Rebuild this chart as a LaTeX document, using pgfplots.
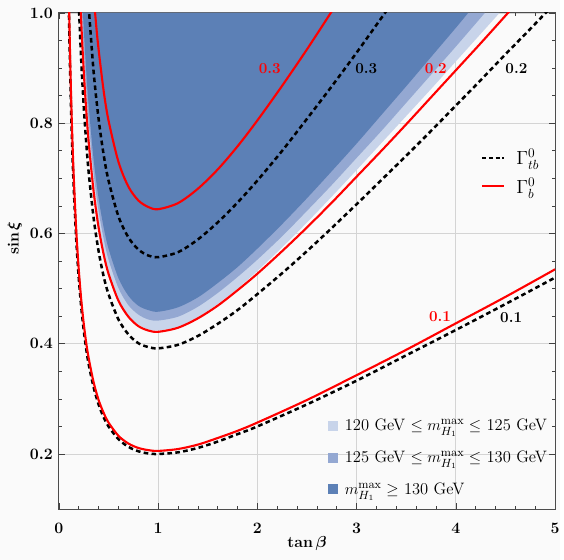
\documentclass[border=0pt]{standalone}
\usepackage{amsmath,amssymb,bm}
\usepackage{pgfplots}
\pgfplotsset{compat=1.18}
\definecolor{bgcol}{RGB}{250,250,250}
\definecolor{bandlight}{RGB}{200,212,234}
\definecolor{bandmid}{RGB}{148,168,210}
\definecolor{banddark}{RGB}{92,128,182}
\definecolor{gridcol}{RGB}{212,212,212}

\begin{document}
\begin{tikzpicture}
% page = 564 px at 0.75pt/px
\fill[bgcol] (-44.5pt,-38.25pt) rectangle (378.5pt,384.75pt);
\begin{axis}[
  at={(0,0)}, anchor=south west,
  scale only axis, width=375pt, height=375pt,
  xmin=0, xmax=5, ymin=0.1, ymax=1.0,
  xtick={0,1,2,3,4,5},
  ytick={0.2,0.4,0.6,0.8,1.0},
  yticklabel style={/pgf/number format/fixed,/pgf/number format/fixed zerofill,
    /pgf/number format/precision=1, xshift=-1pt},
  minor x tick num=4, minor y tick num=3,
  tick align=inside,
  major tick length=4.5pt, minor tick length=2.5pt,
  tick style={black!75, line width=0.5pt},
  axis line style={black!70, line width=0.8pt},
  ticklabel style={font=\fontsize{11.5}{13}\selectfont\bfseries\boldmath},
  xticklabel style={yshift=-7pt},
  grid=major,
  major grid style={gridcol, line width=0.6pt},
  xlabel={\textbf{tan}\,$\bm{\beta}$},
  ylabel={\textbf{sin}\,$\bm{\xi}$},
  label style={font=\fontsize{12}{14}\selectfont},
  xlabel style={at={(axis description cs:0.5,0)}, anchor=center, yshift=-26pt},
  ylabel style={at={(axis description cs:-0.089,0.546)}, anchor=center},
  legend style={at={(0.533,0.193)}, anchor=north west, draw=none, fill=none,
    font=\fontsize{12.5}{14}\selectfont, row sep=9.75pt},
  legend cell align=left,
]
% --- mass regions ---
\addplot[fill=bandlight, draw=none, smooth,
  legend image code/.code={\fill[bandlight] (0pt,-3.75pt) rectangle (7.5pt,3.75pt); \path (11pt,0pt);}]
coordinates {
 (0.2225,1.0) (0.225,0.990) (0.25,0.901) (0.275,0.829) (0.3,0.770) (0.35,0.680)
 (0.4,0.615) (0.45,0.567) (0.5,0.530) (0.6,0.481) (0.7,0.451) (0.8,0.435) (0.9,0.426)
 (1.0,0.424) (1.2,0.431) (1.4,0.448) (1.6,0.472) (1.8,0.500) (2.0,0.532) (2.25,0.575)
 (2.5,0.620) (2.75,0.667) (3.0,0.715) (3.25,0.764) (3.5,0.813) (3.75,0.862)
 (4.0,0.912) (4.25,0.962) (4.44,1.0)
} -- cycle;
\addlegendentry{120 GeV $\leq m_{H_1}^{\max} \leq$ 125 GeV}
\addplot[fill=bandmid, draw=none, smooth,
  legend image code/.code={\fill[bandmid] (0pt,-3.75pt) rectangle (7.5pt,3.75pt); \path (11pt,0pt);}]
coordinates {
 (0.233,1.0) (0.25,0.939) (0.275,0.864) (0.3,0.803) (0.35,0.709) (0.4,0.641)
 (0.45,0.591) (0.5,0.5525) (0.6,0.501) (0.7,0.470) (0.8,0.453) (0.9,0.444) (1.0,0.442)
 (1.2,0.449) (1.4,0.467) (1.6,0.492) (1.8,0.521) (2.0,0.5525) (2.25,0.595) (2.5,0.641)
 (2.75,0.688) (3.0,0.737) (3.25,0.786) (3.5,0.837) (3.75,0.888) (4.0,0.939) (4.292,1.0)
} -- cycle;
\addlegendentry{125 GeV $\leq m_{H_1}^{\max} \leq$ 130 GeV}
\addplot[fill=banddark, draw=none, smooth,
  legend image code/.code={\fill[banddark] (0pt,-3.75pt) rectangle (7.5pt,3.75pt); \path (11pt,0pt);}]
coordinates {
 (0.2425,1.0) (0.25,0.973) (0.275,0.896) (0.3,0.832) (0.35,0.734) (0.4,0.664)
 (0.45,0.612) (0.5,0.5725) (0.6,0.519) (0.7,0.487) (0.8,0.469) (0.9,0.461) (1.0,0.458)
 (1.2,0.466) (1.4,0.484) (1.6,0.510) (1.8,0.539) (2.0,0.5725) (2.25,0.617) (2.5,0.664)
 (2.75,0.713) (3.0,0.763) (3.25,0.815) (3.5,0.867) (3.75,0.920) (4.0,0.973) (4.124,1.0)
} -- cycle;
\addlegendentry{$m_{H_1}^{\max} \geq$ 130 GeV}
% --- Gamma_tb^0 (black dashed) ---
\addplot[forget plot, black, smooth, line width=1.9pt, dash pattern=on 3.5pt off 2.5pt] coordinates {
 (0.1,1.010) (0.11,0.920) (0.12,0.845) (0.13,0.782) (0.14,0.728) (0.15,0.682)
 (0.175,0.589) (0.2,0.520) (0.225,0.467) (0.25,0.425) (0.275,0.391) (0.3,0.363)
 (0.35,0.321) (0.4,0.290) (0.45,0.267) (0.5,0.250) (0.6,0.227) (0.7,0.213) (0.8,0.205)
 (0.9,0.201) (1.0,0.200) (1.2,0.203) (1.4,0.211) (1.6,0.2225) (1.8,0.236) (2.0,0.250)
 (2.5,0.290) (3.0,0.333) (3.5,0.379) (4.0,0.425) (4.5,0.472) (5.0,0.520)
};
\addplot[forget plot, black, smooth, line width=1.9pt, dash pattern=on 3.5pt off 2.5pt] coordinates {
 (0.2,1.018) (0.225,0.914) (0.25,0.832) (0.275,0.766) (0.3,0.711) (0.35,0.628)
 (0.4,0.568) (0.45,0.523) (0.5,0.490) (0.6,0.444) (0.7,0.417) (0.8,0.401) (0.9,0.394)
 (1.0,0.3916) (1.2,0.398) (1.4,0.414) (1.6,0.436) (1.8,0.461) (2.0,0.490) (2.25,0.528)
 (2.5,0.568) (2.75,0.610) (3.0,0.653) (3.25,0.697) (3.5,0.741) (3.75,0.786) (4.0,0.832)
 (4.25,0.878) (4.5,0.925) (4.75,0.971) (5.0,1.018)
};
\addplot[forget plot, black, smooth, line width=1.9pt, dash pattern=on 3.5pt off 2.5pt] coordinates {
 (0.3,1.012) (0.35,0.893) (0.4,0.808) (0.45,0.744) (0.5,0.696) (0.6,0.631) (0.7,0.593)
 (0.8,0.571) (0.9,0.560) (1.0,0.557) (1.2,0.566) (1.4,0.589) (1.6,0.620) (1.8,0.656)
 (2.0,0.696) (2.25,0.750) (2.5,0.808) (2.75,0.867) (3.0,0.928) (3.25,0.991) (3.5,1.054)
};
% --- Gamma_b^0 (red solid) ---
\addplot[forget plot, red, smooth, line width=1.6pt] coordinates {
 (0.1,1.038) (0.11,0.946) (0.12,0.869) (0.13,0.804) (0.14,0.749) (0.15,0.701)
 (0.175,0.605) (0.2,0.535) (0.225,0.480) (0.25,0.437) (0.275,0.402) (0.3,0.374)
 (0.35,0.330) (0.4,0.298) (0.45,0.275) (0.5,0.257) (0.6,0.233) (0.7,0.219) (0.8,0.211)
 (0.9,0.207) (1.0,0.2056) (1.2,0.209) (1.4,0.217) (1.6,0.229) (1.8,0.242) (2.0,0.257)
 (2.5,0.298) (3.0,0.343) (3.5,0.389) (4.0,0.437) (4.5,0.485) (5.0,0.535)
};
\addplot[forget plot, red, smooth, line width=1.6pt] coordinates {
 (0.2,1.096) (0.225,0.984) (0.25,0.896) (0.275,0.825) (0.3,0.766) (0.35,0.676)
 (0.4,0.611) (0.45,0.563) (0.5,0.527) (0.6,0.478) (0.7,0.449) (0.8,0.432) (0.9,0.424)
 (1.0,0.4216) (1.2,0.429) (1.4,0.446) (1.6,0.469) (1.8,0.497) (2.0,0.527) (2.25,0.568)
 (2.5,0.611) (2.75,0.656) (3.0,0.703) (3.25,0.750) (3.5,0.798) (3.75,0.847) (4.0,0.896)
 (4.25,0.945) (4.5,0.995) (4.75,1.046)
};
\addplot[forget plot, red, smooth, line width=1.6pt] coordinates {
 (0.35,1.033) (0.375,0.979) (0.4,0.934) (0.45,0.860) (0.5,0.805) (0.6,0.730)
 (0.7,0.685) (0.8,0.660) (0.9,0.648) (1.0,0.644) (1.2,0.655) (1.4,0.681) (1.6,0.716)
 (1.8,0.758) (2.0,0.805) (2.25,0.868) (2.5,0.934) (2.75,1.003)
};
% --- contour labels ---
\node[red, font=\fontsize{11.5}{13}\selectfont\bfseries] at (axis cs:2.125,0.899) {0.3};
\node[black, font=\fontsize{11.5}{13}\selectfont\bfseries] at (axis cs:3.097,0.899) {0.3};
\node[red, font=\fontsize{11.5}{13}\selectfont\bfseries] at (axis cs:3.797,0.899) {0.2};
\node[black, font=\fontsize{11.5}{13}\selectfont\bfseries] at (axis cs:4.61,0.899) {0.2};
\node[red, font=\fontsize{11.5}{13}\selectfont\bfseries] at (axis cs:3.84,0.449) {0.1};
\node[black, font=\fontsize{11.5}{13}\selectfont\bfseries] at (axis cs:4.557,0.447) {0.1};
\end{axis}
% second, hidden axis for the Gamma legend
\begin{axis}[
  at={(0,0)}, anchor=south west,
  scale only axis, width=375pt, height=375pt,
  xmin=0, xmax=5, ymin=0.1, ymax=1.0,
  hide axis,
  legend style={at={(0.843,0.737)}, anchor=north west, draw=none, fill=none,
    font=\fontsize{14}{16}\selectfont, row sep=4.5pt},
  legend cell align=left,
  legend image code/.code={\draw[#1] (0pt,0pt) -- (16pt,0pt); \path (23pt,0pt);},
]
\addlegendimage{black, line width=1.4pt, dash pattern=on 3pt off 2pt}
\addlegendentry{$\Gamma^{0}_{tb}$}
\addlegendimage{red, line width=1.4pt}
\addlegendentry{$\Gamma^{0}_{b}$}
\end{axis}
\end{tikzpicture}
\end{document}
